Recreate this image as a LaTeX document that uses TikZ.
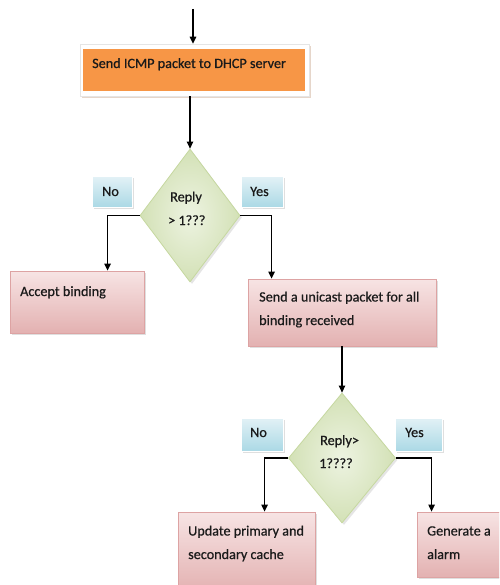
\documentclass[tikz,border=0pt]{standalone}
\usepackage{fontspec}
\setmainfont{Carlito}[FakeBold=0.6]
\usetikzlibrary{arrows.meta,shapes.geometric,shadows,calc}
\definecolor{orangefill}{HTML}{F79646}
\definecolor{frameshadow}{HTML}{C9A58A}
\definecolor{pinktop}{HTML}{F7E4E4}
\definecolor{pinkbot}{HTML}{E3B1B1}
\definecolor{pinkedge}{HTML}{DDA3A3}
\definecolor{greenin}{HTML}{EDF3E1}
\definecolor{greenout}{HTML}{D3E1B6}
\definecolor{greenedge}{HTML}{C6D8A0}
\definecolor{bluetop}{HTML}{E2F1F6}
\definecolor{bluebot}{HTML}{ABD9E5}
\definecolor{inktext}{HTML}{1A1A1A}
\begin{document}
\begin{tikzpicture}[x=1pt,y=-1pt,
  arr/.style={draw=black, line width=1.2pt, -{Triangle[length=7pt,width=6.5pt]}},
  txt/.style={anchor=base west, inner sep=0pt, text=inktext, font=\fontsize{14.2}{16}\selectfont},
  framebox/.style={rectangle, inner sep=0pt, fill=white, draw=black!10, line width=0.5pt,
    drop shadow={opacity=0.45, fill=frameshadow, shadow xshift=1.5pt, shadow yshift=-2pt}},
  pinkbox/.style={rectangle, inner sep=0pt, draw=pinkedge, line width=0.8pt,
    top color=pinktop, bottom color=pinkbot,
    drop shadow={opacity=0.25, shadow xshift=2pt, shadow yshift=-2pt}},
  decision/.style={diamond, inner sep=0pt, draw=greenedge, line width=0.8pt,
    inner color=greenin, outer color=greenout,
    drop shadow={opacity=0.2, shadow xshift=2pt, shadow yshift=-2pt}},
  tag/.style={rectangle, inner sep=0pt, top color=bluetop, bottom color=bluebot, draw=white, line width=1pt,
    drop shadow={opacity=0.25, shadow xshift=1.5pt, shadow yshift=-1.5pt}}
]
\clip (0,0) rectangle (499,585);
\fill[white] (0,0) rectangle (499,585);

% start
\coordinate (start) at (193,9);

% ICMP box
\node[framebox, minimum width=229pt, minimum height=52pt] (icmp) at (194.5,70) {};
\fill[orangefill] ($(icmp.north west)+(3,5)$) rectangle ($(icmp.south east)+(-4,-5)$);
\node[txt] (icmptxt) at (92,68) {Send ICMP packet to DHCP server};

% decision 1
\node[decision, minimum width=100pt, minimum height=133pt] (d1) at (190,215.5) {};
\node[txt] (d1a) at (170,201.5) {Reply};
\node[txt] (d1b) at (168,225) {> 1???};

\node[tag, minimum width=40pt, minimum height=30pt] (no1) at (112,192) {};
\node[txt] (no1t) at (102,196) {No};
\node[tag, minimum width=42pt, minimum height=30pt] (yes1) at (262,192) {};
\node[txt] (yes1t) at (250,196) {Yes};

% accept
\node[pinkbox, minimum width=134pt, minimum height=62pt] (accept) at (77,302) {};
\node[txt] (acctxt) at (20,296) {Accept binding};

% unicast
\node[pinkbox, minimum width=188pt, minimum height=67pt] (uni) at (342,312.5) {};
\node[txt] (uni1) at (259,301.5) {Send a unicast packet for all};
\node[txt] (uni2) at (259,325) {binding received};

% decision 2
\node[decision, minimum width=107pt, minimum height=130pt] (d2) at (342,458) {};
\node[txt] (d2a) at (320,445) {Reply>};
\node[txt] (d2b) at (319,468) {1????};

\node[tag, minimum width=42pt, minimum height=33pt] (no2) at (262,434.5) {};
\node[txt] (no2t) at (250,437) {No};
\node[tag, minimum width=47pt, minimum height=33pt] (yes2) at (418.5,434.5) {};
\node[txt] (yes2t) at (405,437) {Yes};

% update
\node[pinkbox, minimum width=137pt, minimum height=80pt] (upd) at (246.5,552) {};
\node[txt] (upd1) at (188,535.5) {Update primary and};
\node[txt] (upd2) at (188,559) {secondary cache};

% generate
\node[pinkbox, minimum width=88pt, minimum height=65pt] (gen) at (461,544.5) {};
\node[txt] (gen1) at (427,535.5) {Generate a};
\node[txt] (gen2) at (427,559) {alarm};

% connectors
\draw[arr] (start) -- (start |- icmp.north);
\draw[arr] (icmp.south -| d1.north) -- (d1.north);
\draw[arr] (d1.west) -| ($(accept.north west)+(98,0)$);
\draw[arr] (d1.east) -| ($(uni.north west)+(24,0)$);
\draw[arr] (uni.south) -- (d2.north);
\draw[arr] (d2.west) -| ($(upd.north west)+(87,0)$);
\draw[arr] (d2.east) -| ($(gen.north west)+(15,0)$);
\end{tikzpicture}
\end{document}
